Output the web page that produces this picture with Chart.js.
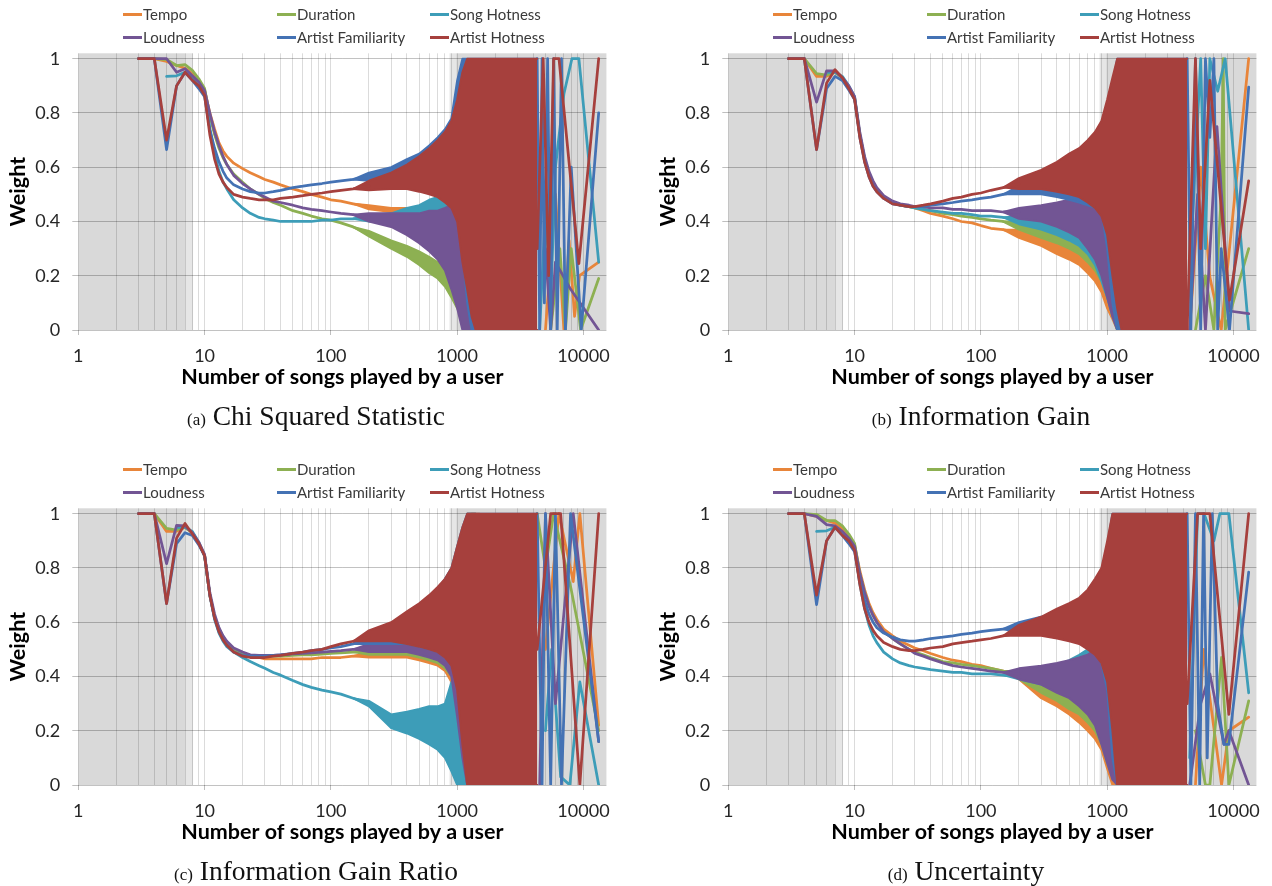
<!DOCTYPE html>
<html><head><meta charset="utf-8">
<script src="https://cdn.jsdelivr.net/npm/chart.js@4.4.1/dist/chart.umd.min.js"></script>
<style>
body{margin:0;background:#fff;width:1272px;height:886px;overflow:hidden;position:relative;font-family:Lato,sans-serif}
.panel{position:absolute;width:620px;height:450px}
.panel canvas{position:absolute;left:0;top:0}
.leg{position:absolute;font-family:Lato,sans-serif;font-size:15px;color:#3a3a3a;white-space:nowrap;line-height:18px;height:18px}
.leg i{position:absolute;left:0;top:8px;width:19px;height:3px}
.leg span{position:absolute;left:20px;top:0}
.cap{position:absolute;font-family:"Liberation Serif",serif;font-size:27.5px;color:#111;white-space:nowrap;transform:translateX(-50%);line-height:30px}
.cap small{font-size:17px}
</style></head>
<body>
<script>
// ---------- shared definitions ----------
const seriesNames = ['Tempo','Duration','Song Hotness','Loudness','Artist Familiarity','Artist Hotness'];
const seriesColors = ['#E8853A','#8DB052','#3D9DB8','#725594','#4472B4','#A6403D'];
const xTickLabels = [1,10,100,1000,10000];
const yTickValues = [0,0.2,0.4,0.6,0.8,1];
const shadeDark = [[1,7],[980,15200]];
const shadeLight = [[7,8.1],[870,980]];
const captionLetters = ['(a)','(b)','(c)','(d)'];
const captionTexts = ['Chi Squared Statistic','Information Gain','Information Gain Ratio','Uncertainty'];

// x positions of the smooth part of every curve
const xMain = [3,4,5,6,7,8,9,10,11,12,13,14,15,17,20,23,27,30,35,40,50,60,70,85,100,120,150,200];
// x positions of the noisy part (drawn as low / high envelopes)
const xBand = [150,200,300,400,500,600,700,800,900,1000,1100,1200,1300,1400,1500,1700,2000,2500,3000,3500,4300,5000];

// ---------- (a) Chi Squared Statistic ----------
const chiTempo = [1,1,0.99,0.975,0.965,0.945,0.915,0.885,0.80,0.74,0.69,0.66,0.64,0.615,0.595,0.58,0.565,0.555,0.545,0.535,0.52,0.51,0.50,0.49,0.48,0.475,0.465,0.455];
const chiDur   = [1,1,0.997,0.975,0.978,0.957,0.926,0.89,0.79,0.72,0.67,0.635,0.61,0.575,0.545,0.52,0.50,0.485,0.47,0.46,0.44,0.43,0.42,0.41,0.405,0.395,0.38,0.355];
const chiSong  = [null,null,0.935,0.937,0.95,0.93,0.90,0.875,0.74,0.65,0.585,0.545,0.52,0.48,0.45,0.43,0.415,0.41,0.405,0.40,0.40,0.40,0.40,0.405,0.405,0.41,0.41,0.415];
const chiLoud  = [1,1,1,0.95,0.963,0.937,0.914,0.883,0.80,0.73,0.68,0.64,0.61,0.57,0.54,0.52,0.50,0.49,0.475,0.47,0.46,0.45,0.445,0.44,0.435,0.43,0.425,0.415];
const chiFam   = [1,1,0.665,0.90,0.95,0.92,0.89,0.86,0.74,0.67,0.62,0.585,0.56,0.535,0.52,0.51,0.505,0.505,0.51,0.515,0.525,0.53,0.535,0.54,0.545,0.55,0.555,0.565];
const chiHot   = [1,1,0.70,0.90,0.95,0.92,0.90,0.865,0.72,0.63,0.575,0.545,0.525,0.50,0.49,0.485,0.48,0.48,0.48,0.485,0.49,0.495,0.50,0.505,0.51,0.515,0.52,0.53];
const chiTempoLo = [.465,.445,.435,.425,.415,.405,.395,.38,.35,.28,.15,.05,0,null,null,null,null,null,null,null,null,null];
const chiTempoHi = [.465,.46,.45,.45,.44,.44,.43,.43,.42,.42,.38,.30,.2,null,null,null,null,null,null,null,null,null];
const chiDurLo = [.38,.345,.30,.27,.24,.21,.19,.16,.12,.08,.04,0,0,null,null,null,null,null,null,null,null,null];
const chiDurHi = [.38,.365,.33,.31,.29,.27,.25,.23,.22,.20,.17,.12,.05,null,null,null,null,null,null,null,null,null];
const chiSongLo = [.41,.40,.40,.39,.38,.37,.35,.33,.28,.20,.10,.03,0,0,null,null,null,null,null,null,null,null];
const chiSongHi = [.41,.425,.43,.45,.46,.48,.49,.51,.53,.55,.52,.45,.35,.2,null,null,null,null,null,null,null,null];
const chiLoudLo = [.425,.40,.38,.35,.32,.29,.26,.22,.15,.08,0,0,0,0,null,null,null,null,null,null,null,null];
const chiLoudHi = [.425,.43,.43,.43,.43,.44,.44,.45,.46,.47,.46,.40,.30,.15,null,null,null,null,null,null,null,null];
const chiFamLo = [.555,.55,.56,.57,.58,.59,.60,.61,.60,.50,.30,.10,0,0,0,0,0,0,0,0,0,null];
const chiFamHi = [.555,.58,.60,.63,.65,.68,.71,.74,.78,.92,1,1,1,1,1,1,1,1,1,1,1,null];
const chiHotLo = [.52,.515,.52,.52,.51,.50,.49,.47,.45,.40,.25,.15,.05,0,0,0,0,0,0,0,0,null];
const chiHotHi = [.52,.55,.58,.61,.64,.67,.70,.73,.77,.85,.95,1,1,1,1,1,1,1,1,1,1,null];
const chiTempoTailX = [5000,6000,7000,7700,8500,9300,13200];
const chiTempoTailY = [0,0.5,0,0.33,0.05,0.2,0.25];
const chiDurTailX = [5500,6500,7200,8000,9500,13200];
const chiDurTailY = [0,0.3,0,0.3,0,0.19];
const chiSongTailX = [4500,5000,5500,6000,7000,8100,9200,13200];
const chiSongTailY = [0,0.45,0.1,0.6,0.87,1,1,0.25];
const chiLoudTailX = [5000,5500,6000,7800,13200];
const chiLoudTailY = [0.3,0,0.25,0.155,0];
const chiFamTailX = [4300,4500,4700,4900,5200,5500,5800,6200,6700,7200,8000,9600,13200];
const chiFamTailY = [1,0,1,0.1,1,0,1,0,1,0,0.6,0,0.8];
const chiHotTailX = [4300,4800,5300,5800,6400,9200,13200];
const chiHotTailY = [0.3,1,0.2,1,1,0.245,1];

// ---------- (b) Information Gain ----------
const igTempo = [1,1,0.935,0.935,0.95,0.93,0.895,0.855,0.72,0.63,0.575,0.54,0.52,0.49,0.47,0.46,0.455,0.45,0.44,0.43,0.42,0.41,0.40,0.395,0.385,0.375,0.37,0.355];
const igDur   = [1,1,0.945,0.94,0.95,0.93,0.895,0.855,0.72,0.63,0.575,0.54,0.52,0.49,0.47,0.46,0.455,0.45,0.445,0.44,0.43,0.425,0.42,0.415,0.41,0.405,0.40,0.39];
const igSong  = [null,null,null,0.95,0.95,0.935,0.90,0.86,0.72,0.63,0.575,0.54,0.52,0.49,0.47,0.46,0.455,0.45,0.445,0.44,0.435,0.43,0.43,0.425,0.42,0.42,0.415,0.41];
const igLoud  = [1,1,0.84,0.955,0.955,0.93,0.90,0.86,0.73,0.64,0.585,0.55,0.525,0.495,0.475,0.465,0.46,0.455,0.455,0.45,0.45,0.445,0.445,0.44,0.44,0.44,0.435,0.435];
const igFam   = [1,1,0.665,0.89,0.935,0.92,0.885,0.85,0.71,0.62,0.565,0.53,0.51,0.485,0.465,0.46,0.455,0.455,0.455,0.46,0.465,0.47,0.475,0.48,0.485,0.49,0.50,0.51];
const igHot   = [1,1,0.665,0.91,0.96,0.93,0.89,0.85,0.71,0.62,0.565,0.53,0.51,0.485,0.465,0.46,0.455,0.455,0.46,0.465,0.475,0.485,0.49,0.50,0.505,0.515,0.525,0.54];
const igTempoLo = [.37,.34,.31,.28,.26,.24,.21,.18,.14,.08,.04,0,null,null,null,null,null,null,null,null,null,null];
const igTempoHi = [.37,.37,.35,.33,.31,.29,.27,.26,.24,.20,.16,.10,null,null,null,null,null,null,null,null,null,null];
const igDurLo = [.40,.37,.34,.32,.30,.28,.25,.22,.18,.12,.06,0,0,null,null,null,null,null,null,null,null,null];
const igDurHi = [.40,.40,.38,.36,.35,.34,.33,.32,.30,.28,.22,.15,.05,null,null,null,null,null,null,null,null,null];
const igSongLo = [.415,.39,.37,.35,.33,.31,.28,.24,.18,.12,.05,0,0,null,null,null,null,null,null,null,null,null];
const igSongHi = [.415,.42,.42,.42,.43,.43,.44,.45,.46,.45,.40,.30,.15,null,null,null,null,null,null,null,null,null];
const igLoudLo = [.435,.41,.40,.38,.36,.34,.30,.26,.20,.12,.05,0,0,0,null,null,null,null,null,null,null,null];
const igLoudHi = [.435,.45,.46,.47,.48,.50,.52,.54,.55,.55,.52,.45,.35,.25,null,null,null,null,null,null,null,null];
const igFamLo = [.50,.50,.50,.49,.48,.47,.46,.45,.44,.30,.10,0,0,0,0,0,0,0,0,0,0,null];
const igFamHi = [.50,.53,.56,.58,.60,.62,.64,.67,.72,.77,.90,1,1,1,1,1,1,1,1,1,1,null];
const igHotLo = [.525,.52,.52,.51,.50,.49,.47,.45,.42,.35,.20,.08,0,0,0,0,0,0,0,0,0,null];
const igHotHi = [.525,.56,.59,.62,.65,.67,.70,.73,.77,.85,.93,1,1,1,1,1,1,1,1,1,1,null];
const igTempoTailX = [4500,5500,6500,8000,13200];
const igTempoTailY = [0,0.6,0.195,0,1];
const igDurTailX = [5000,6000,7000,8000,8300,8600,13200];
const igDurTailY = [0,0.2,0,0.5,1,0,0.3];
const igSongTailX = [4500,5500,6000,6500,7500,8600,13200];
const igSongTailY = [0.2,1,0.3,1,0.88,1,0];
const igLoudTailX = [4500,5200,6000,7400,9300,13200];
const igLoudTailY = [0,0.5,0,0.75,0.07,0.06];
const igFamTailX = [4300,4600,5000,5500,6000,6500,7000,7500,8000,9300,13200];
const igFamTailY = [1,0,1,0,1,0.71,1,0,0.3,0,0.895];
const igHotTailX = [4300,5000,5500,6500,9300,13200];
const igHotTailY = [0,1,0.3,0.92,0.11,0.55];

// ---------- (c) Information Gain Ratio ----------
const igrTempo = [1,1,0.935,0.935,0.95,0.93,0.89,0.845,0.70,0.62,0.575,0.545,0.525,0.50,0.485,0.475,0.47,0.465,0.465,0.465,0.465,0.465,0.465,0.47,0.47,0.47,0.475,0.48];
const igrDur   = [1,1,0.946,0.94,0.95,0.93,0.89,0.845,0.70,0.62,0.575,0.545,0.525,0.50,0.485,0.478,0.475,0.475,0.475,0.475,0.478,0.48,0.48,0.482,0.485,0.487,0.49,0.495];
const igrSong  = [null,null,null,0.95,0.95,0.935,0.895,0.845,0.70,0.61,0.56,0.53,0.51,0.49,0.47,0.455,0.44,0.43,0.415,0.405,0.385,0.37,0.36,0.35,0.343,0.335,0.32,0.30];
const igrLoud  = [1,1,0.816,0.957,0.955,0.93,0.895,0.85,0.71,0.63,0.58,0.55,0.53,0.505,0.49,0.48,0.478,0.478,0.478,0.48,0.483,0.485,0.487,0.49,0.493,0.495,0.50,0.505];
const igrFam   = [1,1,0.669,0.89,0.93,0.92,0.885,0.845,0.70,0.615,0.565,0.535,0.515,0.49,0.478,0.475,0.475,0.475,0.478,0.48,0.485,0.49,0.495,0.50,0.505,0.51,0.52,0.535];
const igrHot   = [1,1,0.669,0.91,0.964,0.925,0.89,0.845,0.70,0.615,0.565,0.535,0.515,0.49,0.475,0.47,0.47,0.47,0.475,0.478,0.485,0.49,0.495,0.50,0.51,0.52,0.53,0.545];
const igrTempoLo = [.475,.47,.47,.47,.46,.45,.44,.42,.38,.20,.05,0,0,0,0,null,null,null,null,null,null,null];
const igrTempoHi = [.475,.49,.50,.50,.50,.50,.50,.50,.50,.55,.70,.90,1,1,1,null,null,null,null,null,null,null];
const igrDurLo = [.49,.48,.48,.48,.47,.46,.45,.43,.40,.25,.10,0,0,0,null,null,null,null,null,null,null,null];
const igrDurHi = [.49,.51,.52,.52,.52,.52,.52,.52,.52,.60,.80,1,1,1,null,null,null,null,null,null,null,null];
const igrSongLo = [.32,.29,.21,.19,.17,.15,.13,.10,.05,0,0,0,0,null,null,null,null,null,null,null,null,null];
const igrSongHi = [.32,.31,.26,.27,.28,.29,.29,.30,.38,.40,.30,.25,.20,null,null,null,null,null,null,null,null,null];
const igrLoudLo = [.50,.49,.49,.49,.48,.47,.46,.44,.40,.25,.10,0,0,0,null,null,null,null,null,null,null,null];
const igrLoudHi = [.50,.52,.53,.54,.55,.56,.57,.58,.60,.70,.85,1,1,1,null,null,null,null,null,null,null,null];
const igrFamLo = [.52,.52,.52,.52,.51,.50,.49,.48,.46,.40,.20,0,0,0,0,0,0,0,0,0,0,null];
const igrFamHi = [.52,.56,.59,.62,.65,.68,.72,.76,.80,.88,.95,1,1,1,1,1,1,1,1,1,1,null];
const igrHotLo = [.53,.53,.53,.52,.51,.50,.49,.47,.44,.35,.15,0,0,0,0,0,0,0,0,0,0,null];
const igrHotHi = [.53,.57,.60,.64,.67,.70,.73,.76,.80,.88,.95,1,1,1,1,1,1,1,1,1,1,null];
const igrTempoTailX = [5000,6390,8300,9360,13200];
const igrTempoTailY = [0.5,1,0.75,1,0.22];
const igrDurTailX = [4300,5000,5800,8000,13200];
const igrDurTailY = [1,0.8,1,0.72,0.2];
const igrSongTailX = [5000,5600,6600,7800,9360,13200];
const igrSongTailY = [0.2,0.5,0.03,0,0.38,0];
const igrLoudTailX = [4500,5000,6000,8300,13200];
const igrLoudTailY = [0,1,0.3,1,0.16];
const igrFamTailX = [4300,4700,5000,5500,6000,6700,7900,13200];
const igrFamTailY = [1,0,1,0,1,0,1,0.16];
const igrHotTailX = [4300,5500,6600,9360,13200];
const igrHotTailY = [0.5,1,1,0,1];

// ---------- (d) Uncertainty ----------
const uncTempo = [1,1,0.99,0.975,0.965,0.945,0.915,0.885,0.79,0.72,0.67,0.635,0.61,0.575,0.55,0.53,0.515,0.505,0.495,0.485,0.47,0.46,0.455,0.445,0.44,0.43,0.42,0.40];
const uncDur   = [1,1,0.997,0.975,0.975,0.955,0.925,0.89,0.78,0.71,0.66,0.625,0.60,0.565,0.54,0.52,0.50,0.49,0.48,0.47,0.455,0.45,0.445,0.44,0.435,0.43,0.42,0.405];
const uncSong  = [null,null,0.935,0.937,0.95,0.93,0.90,0.875,0.74,0.65,0.59,0.55,0.525,0.49,0.465,0.45,0.44,0.435,0.43,0.425,0.42,0.415,0.415,0.41,0.41,0.41,0.405,0.40];
const uncLoud  = [1,1,0.99,0.96,0.955,0.935,0.91,0.88,0.78,0.71,0.66,0.625,0.60,0.565,0.54,0.52,0.50,0.485,0.475,0.465,0.45,0.44,0.435,0.43,0.425,0.42,0.415,0.41];
const uncFam   = [1,1,0.665,0.90,0.95,0.92,0.89,0.86,0.75,0.68,0.63,0.60,0.58,0.56,0.545,0.535,0.53,0.53,0.535,0.54,0.545,0.55,0.555,0.56,0.565,0.57,0.575,0.58];
const uncHot   = [1,1,0.70,0.90,0.95,0.92,0.90,0.865,0.74,0.65,0.60,0.57,0.55,0.525,0.51,0.50,0.495,0.495,0.50,0.505,0.51,0.52,0.525,0.53,0.535,0.54,0.55,0.56];
const uncTempoLo = [.42,.39,.32,.29,.26,.23,.20,.17,.13,.06,0,0,null,null,null,null,null,null,null,null,null,null];
const uncTempoHi = [.42,.42,.37,.34,.32,.30,.28,.27,.26,.23,.18,.10,null,null,null,null,null,null,null,null,null,null];
const uncDurLo = [.42,.39,.34,.31,.28,.26,.23,.20,.15,.08,.03,0,0,null,null,null,null,null,null,null,null,null];
const uncDurHi = [.42,.42,.39,.37,.35,.33,.31,.30,.30,.27,.22,.15,.05,null,null,null,null,null,null,null,null,null];
const uncSongLo = [.405,.39,.37,.35,.33,.31,.28,.24,.18,.12,.06,0,0,0,null,null,null,null,null,null,null,null];
const uncSongHi = [.405,.42,.43,.44,.46,.48,.50,.53,.55,.58,.55,.45,.30,.15,null,null,null,null,null,null,null,null];
const uncLoudLo = [.415,.39,.37,.34,.32,.29,.26,.22,.15,.08,.02,0,0,0,null,null,null,null,null,null,null,null];
const uncLoudHi = [.415,.43,.44,.45,.46,.47,.48,.50,.52,.53,.52,.45,.35,.25,null,null,null,null,null,null,null,null];
const uncFamLo = [.575,.56,.56,.56,.55,.54,.52,.50,.45,.35,.10,0,0,0,0,0,0,0,0,0,0,null];
const uncFamHi = [.575,.60,.62,.63,.64,.66,.69,.72,.78,.88,1,1,1,1,1,1,1,1,1,1,1,null];
const uncHotLo = [.55,.55,.55,.54,.53,.52,.50,.48,.45,.38,.20,0,0,0,0,0,0,0,0,0,0,null];
const uncHotHi = [.55,.59,.62,.65,.67,.69,.72,.76,.80,.90,1,1,1,1,1,1,1,1,1,1,1,null];
const uncTempoTailX = [5000,5800,6500,8050,9200,13200];
const uncTempoTailY = [0,0.5,0.32,0,0.2,0.25];
const uncDurTailX = [5000,6000,6500,8050,9200,13200];
const uncDurTailY = [0.2,0,0,0.47,0,0.31];
const uncSongTailX = [4500,5200,5850,7000,7800,9200,13200];
const uncSongTailY = [0.1,1,1,0.9,1,1,0.34];
const uncLoudTailX = [4500,5500,6500,8400,9200,13200];
const uncLoudTailY = [0,0.3,0.41,0.15,0.2,0];
const uncFamTailX = [4300,4600,5000,5400,5800,6200,6800,7500,8400,9200,13200];
const uncFamTailY = [1,0,1,0,1,0.1,1,0.3,0.15,0.15,0.785];
const uncHotTailX = [4300,5200,6500,9200,13200];
const uncHotTailY = [0.3,1,1,0.26,1];

// ---------- assemble ----------
const panels = [
  {left:0, top:0, capX:316, capY:401, series:[
    [chiTempo,chiTempoLo,chiTempoHi,chiTempoTailX,chiTempoTailY],
    [chiDur,chiDurLo,chiDurHi,chiDurTailX,chiDurTailY],
    [chiSong,chiSongLo,chiSongHi,chiSongTailX,chiSongTailY],
    [chiLoud,chiLoudLo,chiLoudHi,chiLoudTailX,chiLoudTailY],
    [chiFam,chiFamLo,chiFamHi,chiFamTailX,chiFamTailY],
    [chiHot,chiHotLo,chiHotHi,chiHotTailX,chiHotTailY]]},
  {left:650, top:0, capX:981, capY:401, series:[
    [igTempo,igTempoLo,igTempoHi,igTempoTailX,igTempoTailY],
    [igDur,igDurLo,igDurHi,igDurTailX,igDurTailY],
    [igSong,igSongLo,igSongHi,igSongTailX,igSongTailY],
    [igLoud,igLoudLo,igLoudHi,igLoudTailX,igLoudTailY],
    [igFam,igFamLo,igFamHi,igFamTailX,igFamTailY],
    [igHot,igHotLo,igHotHi,igHotTailX,igHotTailY]]},
  {left:0, top:455, capX:316, capY:856, series:[
    [igrTempo,igrTempoLo,igrTempoHi,igrTempoTailX,igrTempoTailY],
    [igrDur,igrDurLo,igrDurHi,igrDurTailX,igrDurTailY],
    [igrSong,igrSongLo,igrSongHi,igrSongTailX,igrSongTailY],
    [igrLoud,igrLoudLo,igrLoudHi,igrLoudTailX,igrLoudTailY],
    [igrFam,igrFamLo,igrFamHi,igrFamTailX,igrFamTailY],
    [igrHot,igrHotLo,igrHotHi,igrHotTailX,igrHotTailY]]},
  {left:650, top:455, capX:966, capY:856, series:[
    [uncTempo,uncTempoLo,uncTempoHi,uncTempoTailX,uncTempoTailY],
    [uncDur,uncDurLo,uncDurHi,uncDurTailX,uncDurTailY],
    [uncSong,uncSongLo,uncSongHi,uncSongTailX,uncSongTailY],
    [uncLoud,uncLoudLo,uncLoudHi,uncLoudTailX,uncLoudTailY],
    [uncFam,uncFamLo,uncFamHi,uncFamTailX,uncFamTailY],
    [uncHot,uncHotLo,uncHotHi,uncHotTailX,uncHotTailY]]}
];

const pts = (xs, ys) => xs.map((x, j) => ({x: x, y: ys[j]}));
const lineDs = (data, color, order, width) => ({
  data, borderColor: color, backgroundColor: color, borderWidth: width,
  pointRadius: 0, tension: 0, order, spanGaps: false, fill: false,
  borderJoinStyle: 'round', borderCapStyle: 'round'
});

const shadePlugin = {
  id: 'shade',
  beforeDraw(chart) {
    const {ctx, chartArea: a, scales: {x}} = chart;
    ctx.save();
    const paint = (spans, col) => spans.forEach(([s, e]) => {
      const x0 = Math.max(a.left, x.getPixelForValue(s));
      const x1 = Math.min(a.right, x.getPixelForValue(e));
      ctx.fillStyle = col;
      ctx.fillRect(x0, a.top, x1 - x0, a.bottom - a.top);
    });
    paint(shadeDark, '#d9d9d9');
    paint(shadeLight, '#e6e6e6');
    ctx.restore();
  }
};

panels.forEach((p, pi) => {
  const div = document.createElement('div');
  div.className = 'panel';
  div.style.left = p.left + 'px';
  div.style.top = p.top + 'px';
  const cv = document.createElement('canvas');
  cv.width = 620; cv.height = 450;
  div.appendChild(cv);
  // legend
  const legCols = [123, 277, 430], legRows = [5, 28];
  seriesNames.forEach((n, i) => {
    const l = document.createElement('div');
    l.className = 'leg';
    l.style.left = legCols[i % 3] + 'px';
    l.style.top = legRows[Math.floor(i / 3)] + 'px';
    l.innerHTML = '<i style="background:' + seriesColors[i] + '"></i><span>' + n + '</span>';
    div.appendChild(l);
  });
  document.body.appendChild(div);
  const cap = document.createElement('div');
  cap.className = 'cap';
  cap.style.left = p.capX + 'px';
  cap.style.top = p.capY + 'px';
  cap.innerHTML = '<small>' + captionLetters[pi] + '</small> ' + captionTexts[pi];
  document.body.appendChild(cap);

  const datasets = [];
  p.series.forEach((s, i) => {
    const [main, lo, hi, tx, ty] = s;
    const c = seriesColors[i], ord = 6 - i;
    datasets.push(lineDs(pts(xMain, main), c, ord, 2.75));
    datasets.push(lineDs(pts(xBand, lo), c, ord, 2));
    const h = lineDs(pts(xBand, hi), c, ord, 2);
    h.fill = '-1';
    datasets.push(h);
    datasets.push(lineDs(pts(tx, ty), c, ord, 2.75));
  });

  new Chart(cv, {
    type: 'line',
    data: {datasets},
    plugins: [shadePlugin],
    options: {
      responsive: false, animation: false, devicePixelRatio: 1,
      layout: {padding: {left: 0, top: 53.3, right: 10, bottom: 58}},
      plugins: {legend: {display: false}, tooltip: {enabled: false}},
      elements: {line: {borderWidth: 2.75}},
      scales: {
        x: {
          type: 'logarithmic', min: 1, max: 15200,
          border: {display: false},
          afterBuildTicks(scale) {
            const t = [];
            xTickLabels.forEach(d => { for (let m = 1; m <= 9; m++) { if (m * d <= 15200) t.push({value: m * d}); } });
            scale.ticks = t;
          },
          afterFit(scale) { scale.height = 62; },
          grid: {
            color: 'rgba(0,0,0,0.14)', lineWidth: 1, tickLength: 5,
            tickColor: c => xTickLabels.includes(c.tick && c.tick.value) ? '#bfbfbf' : 'rgba(0,0,0,0)'
          },
          ticks: {
            autoSkip: false, maxRotation: 0, minRotation: 0, padding: 10,
            color: '#262626', font: {family: 'Lato', size: 18},
            callback: v => xTickLabels.includes(v) ? String(v) : ''
          },
          title: {display: true, text: 'Number of songs played by a user', color: '#000',
            font: {family: 'Lato', size: 21.5, weight: 'bold'}, padding: {top: 0, bottom: 2}}
        },
        y: {
          min: 0, max: 1.02,
          border: {display: false},
          afterBuildTicks(scale) { scale.ticks = yTickValues.map(v => ({value: v})); },
          afterFit(scale) { scale.width = 78.3; },
          grid: {color: 'rgba(0,0,0,0.24)', lineWidth: 1, tickLength: 6, tickColor: '#bfbfbf'},
          ticks: {padding: 12, color: '#262626', font: {family: 'Lato', size: 18},
            callback: v => String(v)},
          title: {display: true, text: 'Weight', color: '#000',
            font: {family: 'Lato', size: 21.5, weight: 'bold'}, padding: {top: 5, bottom: 0}}
        }
      }
    }
  });
});
</script>
</body></html>
